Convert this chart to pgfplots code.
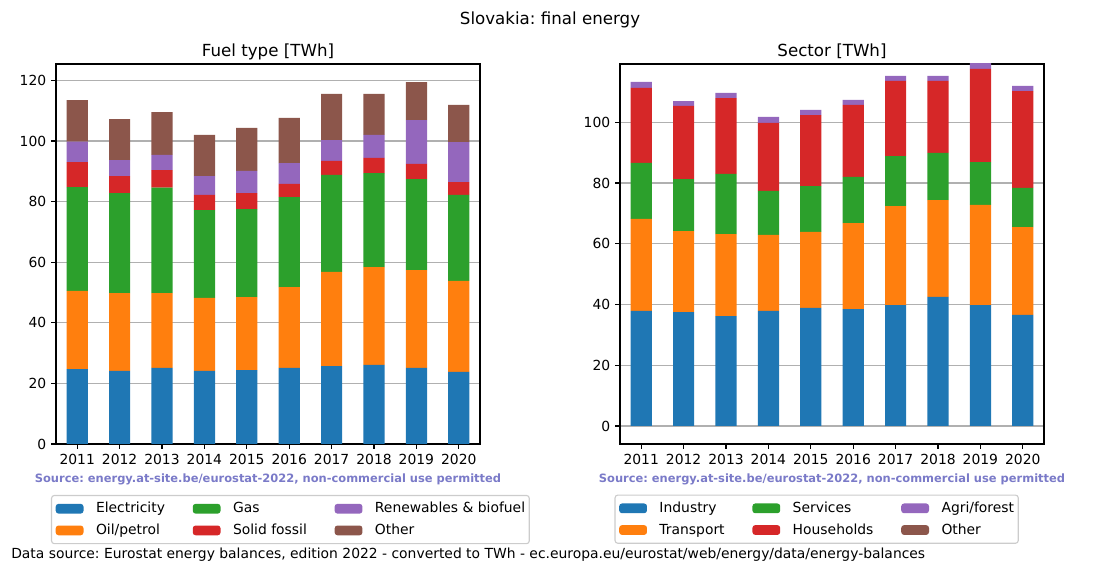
\documentclass[border=0pt]{standalone}
\usepackage{fontspec}
\setmainfont{DejaVu Sans}
\usepackage{pgfplots}
\usepackage{pgfplotstable}
\pgfplotsset{compat=1.18}
\frenchspacing

\definecolor{c0}{HTML}{1F77B4}
\definecolor{c1}{HTML}{FF7F0E}
\definecolor{c2}{HTML}{2CA02C}
\definecolor{c3}{HTML}{D62728}
\definecolor{c4}{HTML}{9467BD}
\definecolor{c5}{HTML}{8C564B}
\definecolor{srccol}{RGB}{122,122,200}

% fuel type, TWh
\pgfplotstableread{
x elec oil gas solid renew other
0 24.7 25.8 34.3 8.2 6.8 13.7
1 24.1 25.7 33.0 5.6 5.3 13.5
2 25.1 24.7 34.8 5.8 5.0 14.1
3 24.1 24.1 29.0 5.0 6.2 13.6
4 24.4 24.1 29.0 5.3 7.3 14.2
5 25.1 26.7 29.7 4.3 6.9 14.9
6 25.7 31.1 32.0 4.6 6.9 15.2
7 26.1 32.3 31.0 5.0 7.6 13.5
8 25.1 32.3 30.0 5.0 14.5 12.5
9 23.8 30.0 28.4 4.2 13.2 12.3
}\fueltable

% sector, TWh
\pgfplotstableread{
x ind trans serv house agri other
0 37.9 30.3 18.4 24.7 2.0 0
1 37.5 26.7 17.1 24.1 1.6 0
2 36.2 27.0 19.8 25.0 1.7 0
3 37.9 25.0 14.5 22.4 2.0 0
4 38.9 25.0 15.1 23.4 1.7 0
5 38.5 28.3 15.2 23.7 1.7 0
6 39.8 32.6 16.5 24.7 1.7 0
7 42.5 31.9 15.5 23.7 1.7 0
8 39.8 33.0 14.1 30.7 1.9 0
9 36.6 28.9 12.9 31.9 1.7 0
}\sectortable

\pgfplotsset{
  mplbars/.style={
    scale only axis,
    width=305.28pt, height=273.6pt,
    anchor=south west,
    ybar stacked, bar width=0.5,
    xmin=-0.5, xmax=9.5,
    xtick={0,...,9},
    xticklabels={2011,2012,2013,2014,2015,2016,2017,2018,2019,2020},
    xtick pos=bottom, ytick pos=left,
    tick align=outside, major tick length=3.5pt,
    tick style={black, line width=0.8pt},
    axis line style={line width=0.8pt},
    ymajorgrids, grid style={color=black!31, line width=0.8pt},
    ticklabel style={font=\fontsize{10}{12}\selectfont},
    /pgf/number format/assume math mode=true,
    scaled y ticks=false,
    title style={font=\fontsize{12}{14}\selectfont, anchor=base, at={(0.5,1)}, yshift=-0.7pt, inner sep=0pt},
    legend columns=2, transpose legend,
    legend image code/.code={\fill[##1,draw=none] (0pt,-3.5pt) rectangle (20pt,3.5pt);},
    legend style={anchor=north west, draw=black!20, rounded corners=2pt,
      line width=0.8pt,
      font=\fontsize{10}{12}\selectfont, cells={anchor=west},
      nodes={inner xsep=0pt},
      /tikz/every odd column/.append style={column sep=9pt},
      /tikz/every even column/.append style={column sep=20pt},
      row sep=2.5pt, inner xsep=3pt, inner ysep=3pt},
  },
}

\begin{document}
\begin{tikzpicture}
\useasboundingbox (0,0) rectangle (792pt,411.84pt);

\node[anchor=base, font=\fontsize{12}{14}\selectfont, inner sep=0pt] at (396pt,394.2pt) {Slovakia: final energy};

\begin{axis}[mplbars, at={(40.32pt,92.16pt)},
  ymin=0, ymax=125.4, ytick={0,20,...,120},
  title={Fuel type [TWh]},
  legend style={at={(-0.0118,-0.134)}}]
\addplot[fill=c0, draw=none] table[x=x, y=elec] {\fueltable};
\addlegendentry{Electricity}
\addplot[fill=c1, draw=none] table[x=x, y=oil] {\fueltable};
\addlegendentry{Oil/petrol}
\addplot[fill=c2, draw=none] table[x=x, y=gas] {\fueltable};
\addlegendentry{Gas}
\addplot[fill=c3, draw=none] table[x=x, y=solid] {\fueltable};
\addlegendentry{Solid fossil}
\addplot[fill=c4, draw=none] table[x=x, y=renew] {\fueltable};
\addlegendentry{Renewables \& biofuel}
\addplot[fill=c5, draw=none] table[x=x, y=other] {\fueltable};
\addlegendentry{Other}
\end{axis}

\begin{axis}[mplbars, at={(446.4pt,92.16pt)},
  ymin=-5.93, ymax=119.2, ytick={0,20,...,100},
  title={Sector [TWh]},
  legend style={at={(-0.013,-0.133)}}]
\addplot[fill=c0, draw=none] table[x=x, y=ind] {\sectortable};
\addlegendentry{Industry}
\addplot[fill=c1, draw=none] table[x=x, y=trans] {\sectortable};
\addlegendentry{Transport}
\addplot[fill=c2, draw=none] table[x=x, y=serv] {\sectortable};
\addlegendentry{Services}
\addplot[fill=c3, draw=none] table[x=x, y=house] {\sectortable};
\addlegendentry{Households}
\addplot[fill=c4, draw=none] table[x=x, y=agri] {\sectortable};
\addlegendentry{Agri/forest}
\addplot[fill=c5, draw=none] table[x=x, y=other] {\sectortable};
\addlegendentry{Other}
\end{axis}

\node[anchor=center, font=\fontsize{8.25}{10}\selectfont\bfseries, text=srccol, inner sep=0pt] at (192.96pt,67pt) {Source: energy.at-site.be/eurostat-2022, non-commercial use permitted};
\node[anchor=center, font=\fontsize{8.25}{10}\selectfont\bfseries, text=srccol, inner sep=0pt] at (599.04pt,67pt) {Source: energy.at-site.be/eurostat-2022, non-commercial use permitted};

\node[anchor=base west, font=\fontsize{10}{12}\selectfont, inner sep=0pt] at (7.92pt,9.4pt) {Data source: Eurostat energy balances, edition 2022 - converted to TWh - ec.europa.eu/eurostat/web/energy/data/energy-balances};
\end{tikzpicture}
\end{document}
